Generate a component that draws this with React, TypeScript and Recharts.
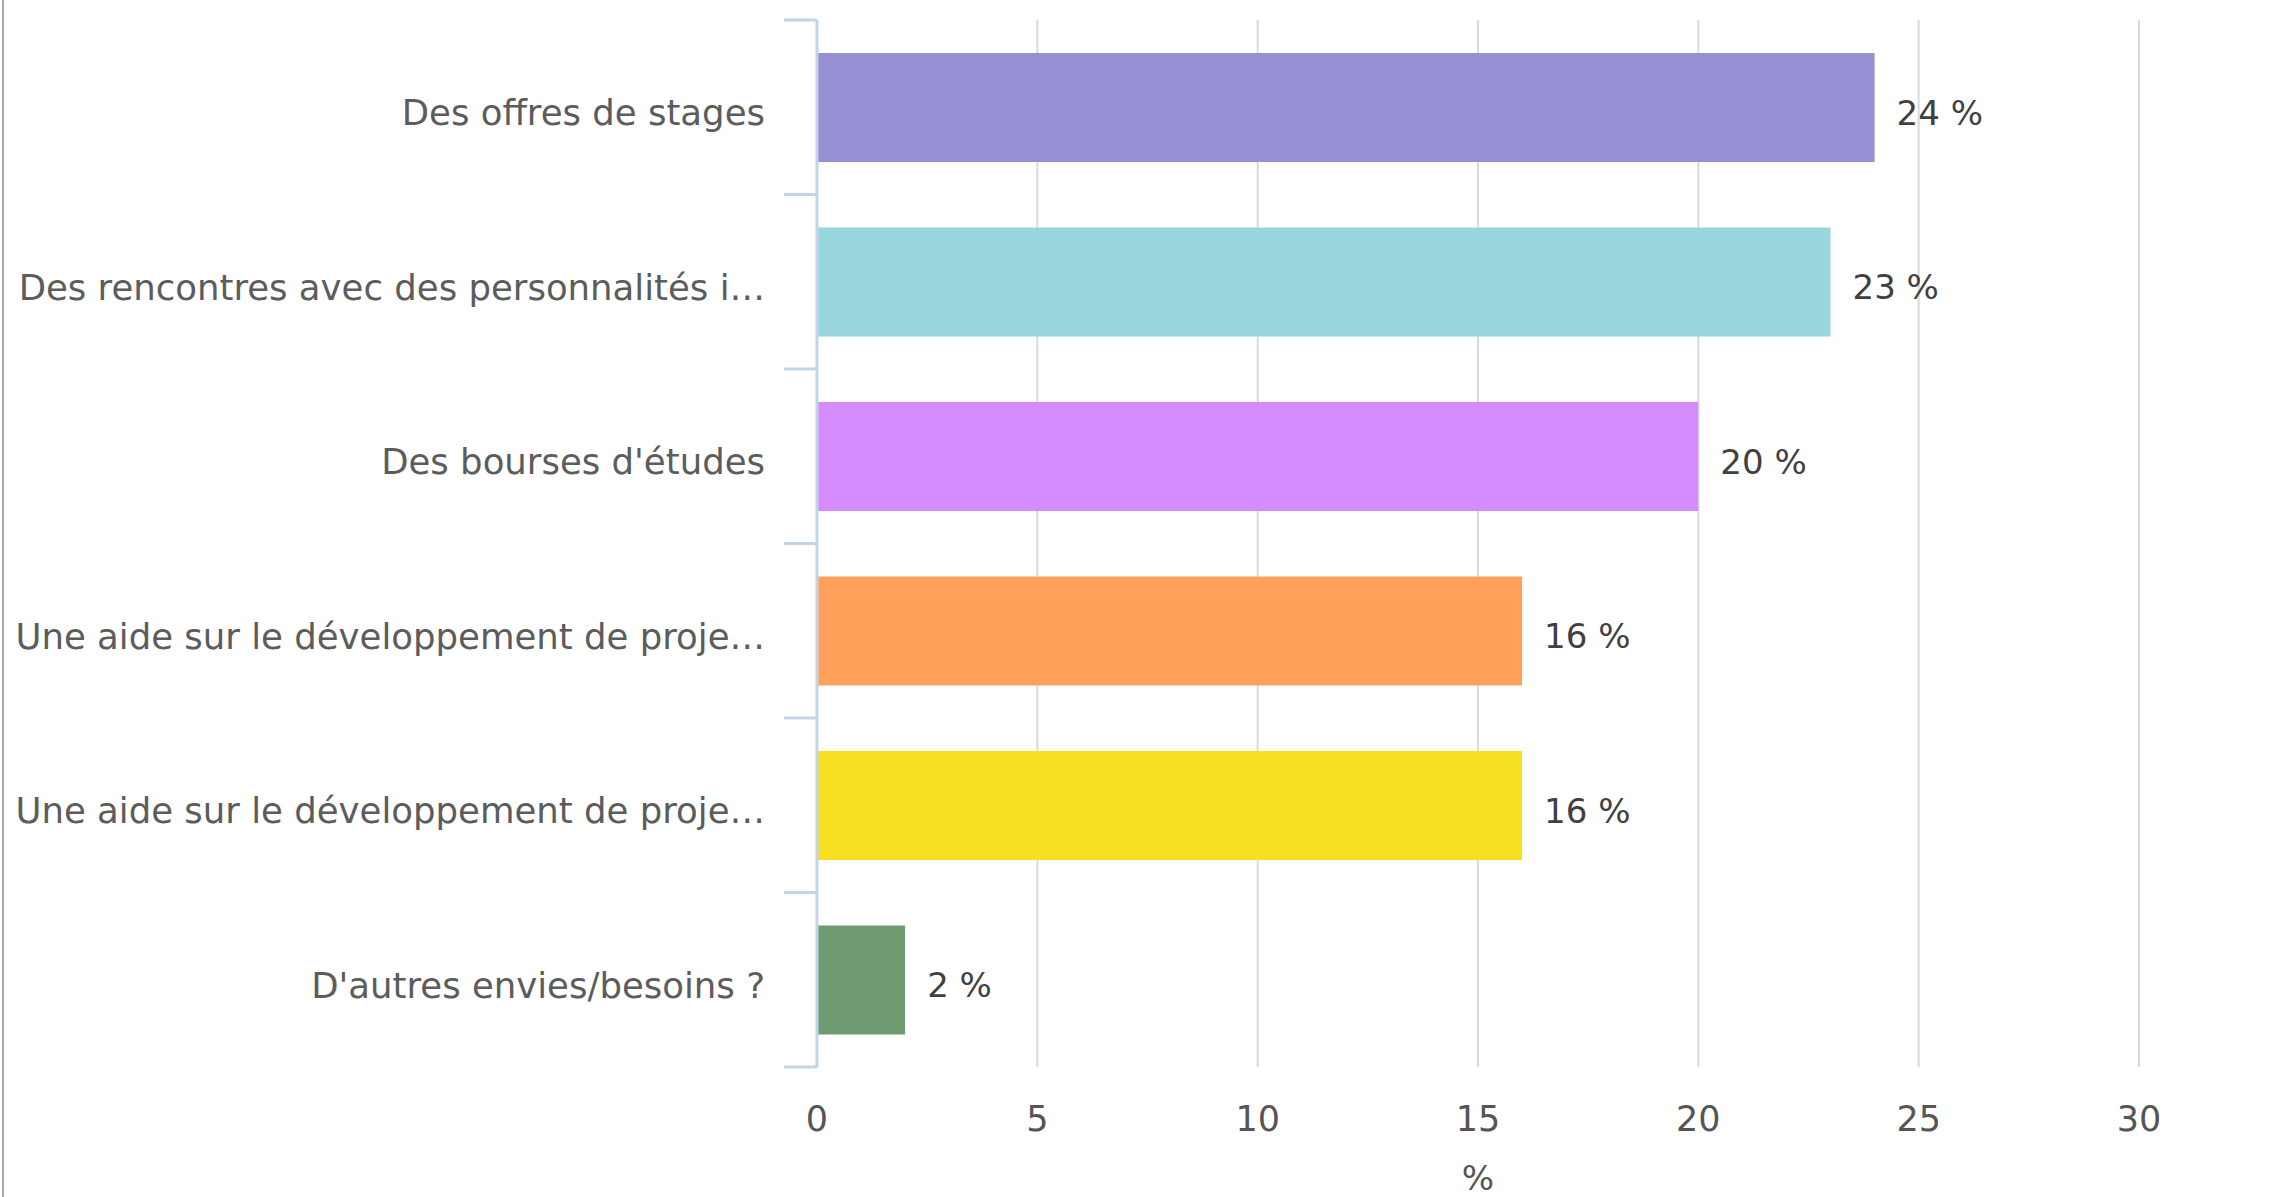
import { Bar, BarChart, CartesianGrid, Cell, LabelList, XAxis, YAxis } from "recharts";

const categories = [
  "Des offres de stages",
  "Des rencontres avec des personnalités i…",
  "Des bourses d'études",
  "Une aide sur le développement de proje…",
  "Une aide sur le développement de proje…",
  "D'autres envies/besoins ?",
];
const shares = [24, 23, 20, 16, 16, 2];
const barColors = ["#978fd4", "#96d6dc", "#d58cff", "#ffa15b", "#f7e021", "#6e9b70"];
const xTicks = [0, 5, 10, 15, 20, 25, 30];

const FONT = "'DejaVu Sans', sans-serif";
const W = 2279;
const H = 1197;
const M = { top: 20, right: 140, bottom: 0, left: 0 };
const X_AXIS_H = 130;
const AXIS_BLUE = "#c4d3e6";

// band height of the category axis, used to put tick marks between the bars
const band = (H - M.top - M.bottom - X_AXIS_H) / categories.length;

function CategoryTick(props: any) {
  const { x, y, payload, index } = props;
  const last = index === categories.length - 1;
  return (
    <g>
      <line x1={x - 33} x2={x} y1={y - band / 2} y2={y - band / 2} stroke={AXIS_BLUE} strokeWidth={3} />
      {last && <line x1={x - 33} x2={x} y1={y + band / 2} y2={y + band / 2} stroke={AXIS_BLUE} strokeWidth={3} />}
      <text x={x - 52} y={y} dy={18} textAnchor="end" fill="#5c5c5c" fontSize={35.5} fontFamily={FONT}>
        {categories[payload.value]}
      </text>
    </g>
  );
}

export default function App() {
  const data = categories.map((name, i) => ({ id: i, name, value: shares[i] }));

  return (
    <div style={{ position: "absolute", left: 0, top: 0, width: W, height: H, background: "#fff", fontFamily: FONT }}>
      <div style={{ position: "absolute", left: 2, top: 0, width: 2, height: H, background: "#a8a8a8" }} />
      <BarChart width={W} height={H} data={data} layout="vertical" margin={M}>
        <CartesianGrid horizontal={false} stroke="#dadada" strokeWidth={2} />
        <XAxis
          type="number"
          domain={[0, 30]}
          ticks={xTicks}
          height={X_AXIS_H}
          axisLine={false}
          tickLine={false}
          tickSize={0}
          tickMargin={39}
          tick={{ fill: "#555", fontSize: 35, fontFamily: FONT }}
          label={{ value: "%", position: "insideBottom", offset: 7, fill: "#555", fontSize: 34, fontFamily: FONT }}
        />
        <YAxis
          type="category"
          dataKey="id"
          width={817}
          axisLine={{ stroke: AXIS_BLUE, strokeWidth: 3 }}
          tickLine={false}
          tickSize={0}
          tickMargin={0}
          tick={<CategoryTick />}
        />
        <Bar dataKey="value" barSize={109} isAnimationActive={false}>
          {data.map((d, i) => (
            <Cell key={d.id} fill={barColors[i]} />
          ))}
          <LabelList
            dataKey="value"
            position="right"
            offset={22}
            formatter={(v: number) => `${v} %`}
            style={{ fill: "#404040", fontSize: 34, fontFamily: FONT, transform: "translateY(5px)" }}
          />
        </Bar>
      </BarChart>
    </div>
  );
}
